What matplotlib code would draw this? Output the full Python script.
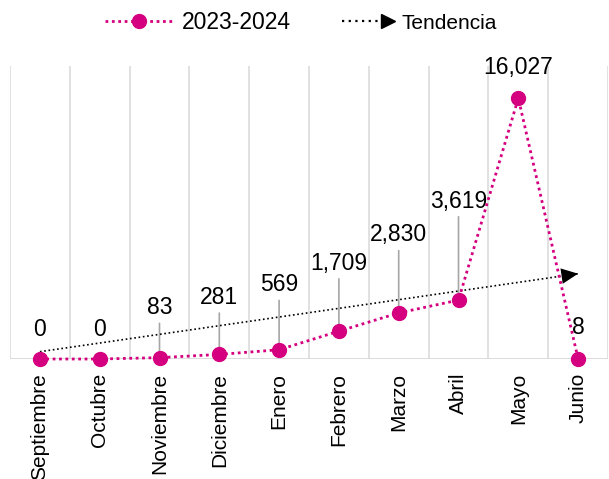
import matplotlib.pyplot as plt
from matplotlib.lines import Line2D
from matplotlib.legend_handler import HandlerBase

plt.rcParams['font.family'] = ['Liberation Sans', 'DejaVu Sans']

meses = ['Septiembre', 'Octubre', 'Noviembre', 'Diciembre', 'Enero',
         'Febrero', 'Marzo', 'Abril', 'Mayo', 'Junio']
valores = [0, 0, 83, 281, 569, 1709, 2830, 3619, 16027, 8]
serie = '2023-2024'

# tendencia dibujada como flecha (valor al inicio y al final)
tendencia_ini = 450
tendencia_fin = 5240

# desplazamiento de las etiquetas (px hacia arriba) y si llevan guia
label_off = [29, 29, 50, 57, 65, 68, 78, 99, 31, 31]
con_guia = [False, False, True, True, True, True, True, True, False, False]

rosa = '#d5007f'
gris = '#d9d9d9'
punteado = (0, (1, 1.3))


class FlechaHandler(HandlerBase):
    def create_artists(self, legend, orig_handle, xdescent, ydescent,
                       width, height, fontsize, trans):
        y = height / 2 - ydescent
        x1 = width - xdescent + 1
        linea = Line2D([x1 - 38, x1 - 8], [y, y], ls=(0, (1, 2)), color='k', lw=1.6)
        punta = Line2D([x1 - 5], [y], marker='>', ms=10, color='k', ls='')
        linea.set_transform(trans)
        punta.set_transform(trans)
        return [linea, punta]


fig = plt.figure(figsize=(6.09, 4.79), dpi=100)
ax = fig.add_axes([10 / 609, 1 - 359 / 479, 598 / 609, 293 / 479])

x = list(range(len(meses)))

for b in [i - 0.5 for i in range(len(meses) + 1)]:
    ax.axvline(b, color=gris, lw=1.1, zorder=0)
ax.axhline(0, color=gris, lw=1.3, zorder=0)

ax.plot(x, valores, color=rosa, ls=punteado, lw=2.0, marker='o', ms=10,
        zorder=4, clip_on=False)

ax.plot([x[0], x[-1]], [tendencia_ini, tendencia_fin], color='k',
        ls=(0, (1, 1.6)), lw=1.2, zorder=3)
pend = (tendencia_fin - tendencia_ini) / (x[-1] - x[0])
ax.annotate('', xy=(x[-1], tendencia_fin),
            xytext=(x[-1] - 0.3, tendencia_fin - pend * 0.3),
            arrowprops=dict(arrowstyle='-|>,head_length=0.6,head_width=0.28',
                            mutation_scale=20, color='k', lw=0, shrinkA=0, shrinkB=0),
            zorder=3)

for xi, v, off, guia in zip(x, valores, label_off, con_guia):
    props = None
    if guia:
        props = dict(arrowstyle='-', color='#a6a6a6', lw=1.2, shrinkA=1, shrinkB=0)
    ax.annotate(f'{v:,}', xy=(xi, v), xytext=(0, off), textcoords='offset pixels',
                ha='center', va='center', fontsize=16.5, color='black',
                arrowprops=props, zorder=2)

ax.set_xlim(-0.5, len(meses) - 0.5)
ax.set_ylim(0, 18000)
ax.set_xticks(x)
ax.set_xticklabels(meses, rotation=90, fontsize=15)
ax.tick_params(axis='x', length=0, pad=10)
ax.set_yticks([])
for s in ax.spines.values():
    s.set_visible(False)

handles = [Line2D([], [], color=rosa, ls=punteado, lw=2.0, marker='o', ms=10),
           Line2D([], [], color='k')]
leg = fig.legend(handles, [serie, 'Tendencia'], loc='center',
                 bbox_to_anchor=(0.494, 0.952), ncol=2, frameon=False,
                 fontsize=16.5, handlelength=3, handletextpad=0.35,
                 columnspacing=1.5,
                 handler_map={handles[1]: FlechaHandler()})
leg.get_texts()[1].set_fontsize(15)

fig.savefig('out.png', dpi=100)
